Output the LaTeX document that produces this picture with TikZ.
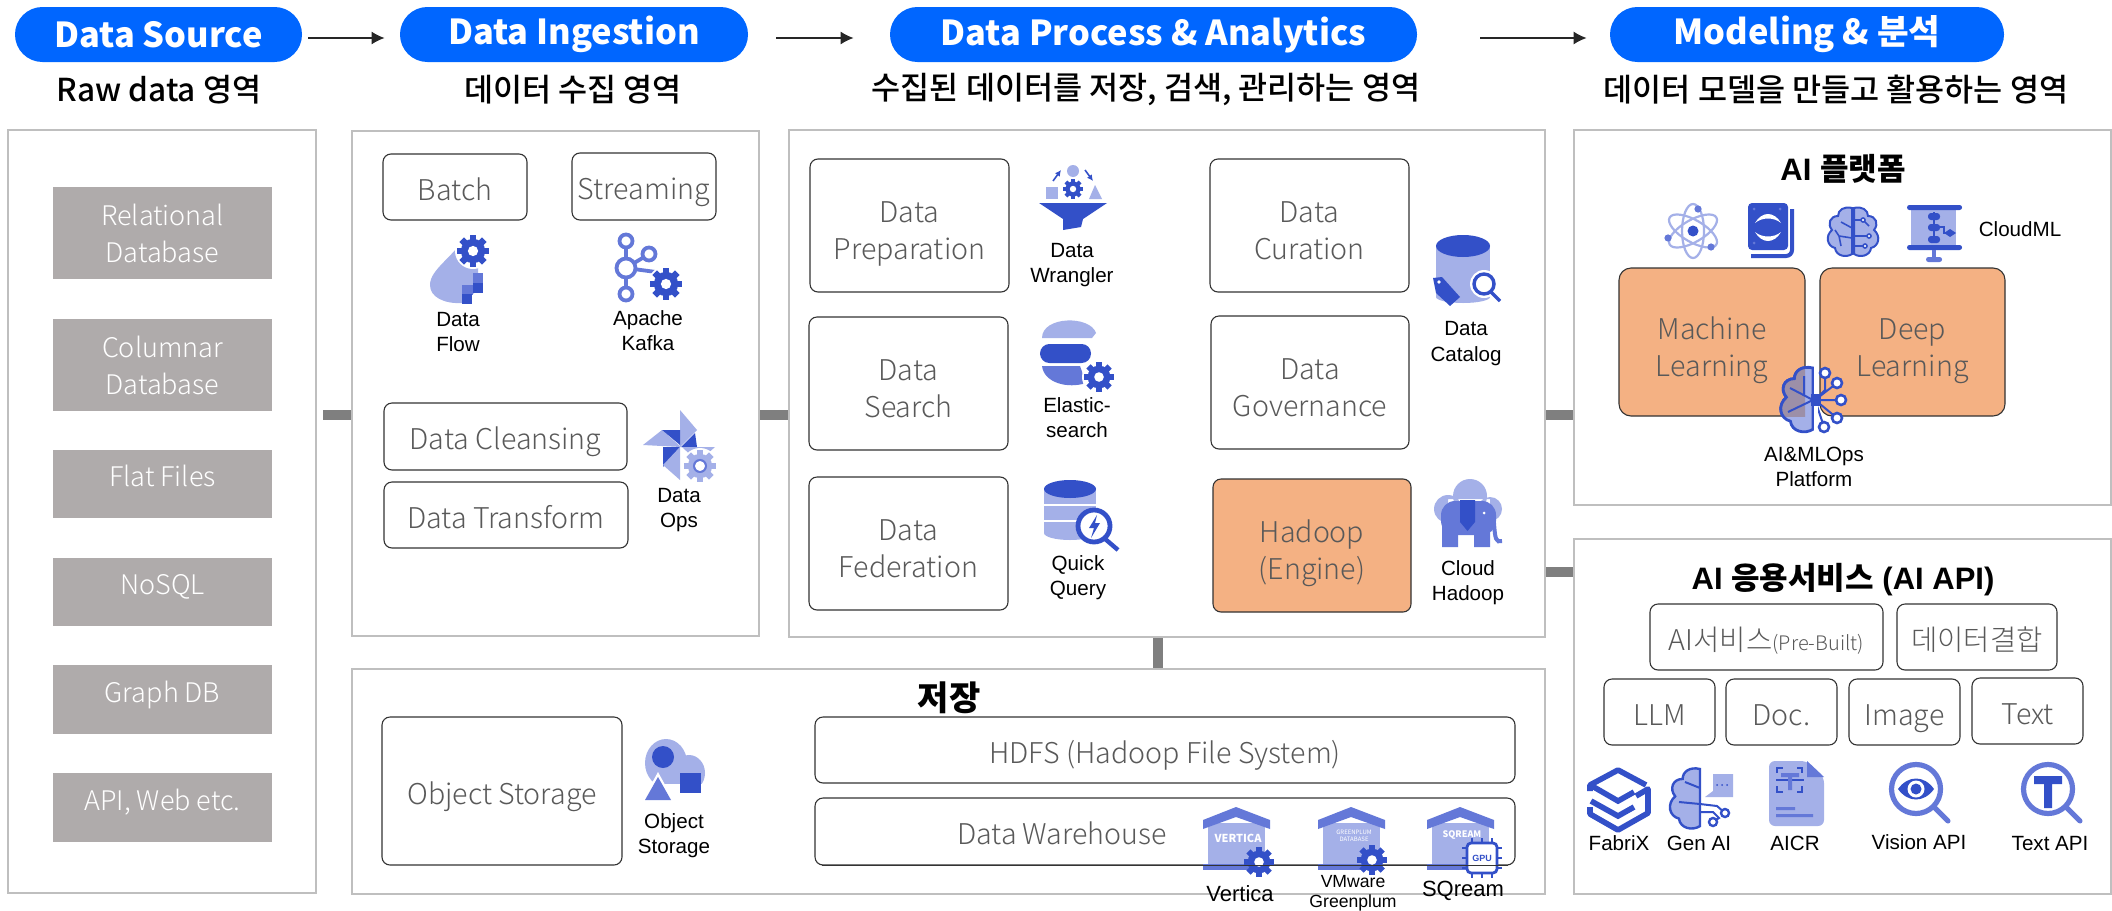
\documentclass[tikz,border=0pt]{standalone}
\usepackage{fontspec}
\setmainfont{Noto Sans CJK KR}
\newfontfamily\lightfont{Noto Sans CJK KR Light}
\newfontfamily\medfont{Noto Sans CJK KR Medium}
\newfontfamily\arialfont{Liberation Sans}
\usetikzlibrary{arrows.meta}
\definecolor{iconl}{HTML}{A4B0E8}
\definecolor{iconm}{HTML}{6478D8}
\definecolor{icond}{HTML}{3350C8}
\definecolor{hotfill}{HTML}{F4B183}
\definecolor{pillblue}{HTML}{0066FF}
\definecolor{boxgrey}{HTML}{AFABAB}
\definecolor{boxtext}{HTML}{595959}
\definecolor{panelline}{HTML}{BFBFBF}
\definecolor{stubgrey}{HTML}{7F7F7F}
\definecolor{lobeover}{HTML}{9C8FA8}
\newcommand{\gearmark}[4][icond]{%
  \foreach \a in {0,45,...,315}
    \fill[#1,shift={(#2,#3)},rotate=\a] (-.2*#4,0) rectangle (.2*#4,#4);
  \fill[#1] (#2,#3) circle (.76*#4);
  \fill[white] (#2,#3) circle (.32*#4);}
\newcommand{\lobeline}{(0,0) .. controls (-8,-2) and (-14,2) .. (-14,8) .. controls (-22,8) and (-25,16) .. (-20,22) .. controls (-27,28) and (-25,38) .. (-17,40) .. controls (-16,48) and (-6,50) .. (0,46) -- cycle}
\tikzset{
    panel/.style = {draw=panelline, line width=1.2pt, fill=white, minimum width=#1},
    pill/.style = {fill=pillblue, text=white, rounded corners=13.7pt, minimum height=27.5pt,
        minimum width=#1, font=\bfseries\fontsize{17.2}{18}\selectfont},
    subtitle/.style = {font=\medfont\fontsize{15.8}{18}\selectfont},
    greybox/.style = {fill=boxgrey, text=white, minimum width=109.5pt, align=center,
        font=\lightfont\fontsize{13.5}{18.5}\selectfont},
    liftedtext/.style = {execute at end node={\rule[-8pt]{0pt}{8pt}}},
    whitebox/.style = {draw=black!80, line width=.55pt, rounded corners=4pt, text=boxtext, fill=white,
        align=center, inner sep=0pt, font=\lightfont\fontsize{14.3}{18.5}\selectfont,
        execute at begin node={\rule{0pt}{1.2em}}, execute at end node={\rule[-.28em]{0pt}{.28em}}},
    twoline/.style = {execute at begin node={\rule{0pt}{38pt}}},
    hotbox/.style = {whitebox, fill=hotfill},
    iconlabel/.style = {align=center, inner sep=0pt, font=\arialfont\fontsize{10.3}{12.6}\selectfont},
    paneltitle/.style = {inner sep=0pt, font=\bfseries\fontsize{15.5}{18}\selectfont},
    stub/.style = {draw=stubgrey, line width=5pt},
    flowarrow/.style = {draw=black!85, line width=.7pt, -{Latex[length=6.5pt,width=6.5pt]}},
    ringmark/.style = {fill=white, draw=#1, line width=1.3pt},
    flowicon/.pic = {
        \fill[iconl] (36,0) .. controls (24,22) and (0,34) .. (0,50) .. controls (0,62) and (14,69) .. (32,68) -- (48,55) -- (48,20) -- cycle;
        \fill[white] (43,16) circle (18);
        \gearmark{43}{16}{16}
        \fill[iconm] (43,38) rectangle (53,57);
        \fill[icond] (43,48) rectangle (53,58);
        \fill[iconm] (32,50) rectangle (43,60);
        \fill[icond] (32,59) rectangle (42,69);
    },
    kafkaicon/.pic = {
        \draw[iconm, line width=1.9pt] (12,7) -- (12,60) (12,34) -- (35,20) (12,34) -- (42,38);
        \filldraw[ringmark=iconm, line width=1.9pt] (12,7) circle (6.5) (12,60) circle (6.5) (35,20) circle (6.5);
        \filldraw[ringmark=iconm, line width=1.9pt] (12,34) circle (9.5);
        \fill[white] (52,50) circle (18);
        \gearmark{52}{50}{16}
    },
    opsicon/.pic = {
        \fill[iconl] (50,10) -- (50,47) -- (67,30) -- cycle;
        \fill[icond] (65,33) -- (67,47) -- (51,47) -- cycle;
        \fill[iconl] (13,45) -- (32,30) -- (51,47) -- cycle;
        \fill[icond] (32,30) -- (50,30) -- (50,45) -- cycle;
        \fill[icond] (33,47) -- (33,67) -- (50,47) -- cycle;
        \fill[iconl] (33,65) -- (50,80) -- (50,47) -- cycle;
        \fill[iconl] (52,47) -- (85,47) -- (68,62) -- cycle;
        \fill[white] (70,66) circle (18);
        \gearmark[iconl]{70}{66}{16}
        \draw[iconm, line width=1pt] (70,66) circle (6);
    },
    wranglericon/.pic = {
        \fill[iconl] (34,6) circle (6);
        \fill[iconl] (7,22) rectangle (19,34);
        \fill[iconl] (50,34) -- (63,34) -- (56,20) -- cycle;
        \gearmark{34}{24}{10}
        \draw[icond, line width=.8pt, -{Latex[length=3pt,width=3pt]}] (14,16) -- (22,5);
        \draw[icond, line width=.8pt, -{Latex[length=3pt,width=3pt]}] (46,5) -- (54,16);
        \fill[icond] (0,38) -- (68,38) -- (44,54) -- (42,62) -- (24,65) -- (24,54) -- cycle;
    },
    elasticicon/.pic = {
        \fill[iconl] (2,17) .. controls (2,-5) and (50,-6) .. (56,12) -- (52,17) -- cycle;
        \fill[icond, rounded corners=4.7pt] (0,23) rectangle (51,42);
        \fill[iconm] (2,45) -- (40,45) -- (46,62) .. controls (28,68) and (4,62) .. (2,45) -- cycle;
        \fill[white] (59,56) circle (17);
        \gearmark{59}{56}{15}
    },
    queryicon/.pic = {
        \fill[iconl] (0,10) rectangle (52,53);
        \fill[iconl] (26,53) ellipse (26 and 7);
        \draw[white, line width=.7pt] (0,25) -- (52,25) (0,41) -- (52,41);
        \fill[icond] (26,9) ellipse (26 and 9);
        \draw[icond, line width=2.2pt] (60,58) -- (74,70);
        \filldraw[fill=white, draw=icond, line width=2.4pt] (50,46) circle (16);
        \fill[icond] (53,35) -- (45,48) -- (50,48) -- (47,58) -- (56,43) -- (51,43) -- cycle;
    },
    catalogicon/.pic = {
        \fill[iconl] (6,11) rectangle (60,62);
        \fill[iconl] (33,62) ellipse (27 and 6);
        \fill[icond] (33,11) ellipse (27 and 11);
        \fill[white] (54,49) circle (14);
        \draw[icond, line width=1.7pt] (61,57) -- (70,66);
        \draw[icond, line width=1.7pt] (54,49) circle (10);
        \fill[icond] (3,43) -- (12,42) -- (30,62) -- (20,71) -- (6,58) -- cycle;
        \fill[white] (9,47) circle (1.8);
    },
    hadoopicon/.pic = {
        \fill[iconl] (36,17) circle (17) (14,30) circle (14) (56,30) circle (12) (14,20) rectangle (56,44);
        \fill[iconm, rounded corners=7pt] (7,22) rectangle (62,56);
        \fill[iconm] (8,46) rectangle (24,68) (40,46) rectangle (56,68);
        \draw[iconm, line width=2pt] (60,44) .. controls (61,60) and (62,64) .. (68,62);
        \fill[icond] (26,21) -- (41,21) -- (41,43) -- (33.5,52) -- (26,43) -- cycle;
        \fill[white] (50,34) circle (1.5);
    },
    storeicon/.pic = {
        \begin{scope}
            \clip (0,0) rectangle (60,44);
            \fill[iconl] (21,24) ellipse (21 and 24);
            \fill[iconl] (44,34) ellipse (16 and 18);
        \end{scope}
        \fill[icond] (18,18) circle (11);
        \fill[white] (13,33) -- (30,64) -- (-4,64) -- cycle;
        \fill[iconm] (13,38) -- (26,61) -- (0,61) -- cycle;
        \fill[icond] (35,34) rectangle (56,54);
    },
    houseicon/.pic = {
        \fill[iconl] (5,16) rectangle (62,57);
        \fill[iconm] (0,13) -- (33,0) -- (67,13) -- (67,22) -- (33,10) -- (0,22) -- cycle;
        \fill[iconm] (0,57) rectangle (52,63);
    },
    cogmark/.pic = {
        \gearmark{0}{0}{15}
    },
    atomicon/.pic = {
        \foreach \a in {30,90,150}
            \draw[iconl, line width=1.1pt, rotate around={\a:(29,28)}] (29,28) ellipse (27 and 11);
        \fill[icond] (29,28) circle (5.5);
        \fill[iconm] (34,6) circle (3.6) (4,35) circle (3.6) (47,44) circle (3.6);
    },
    bookicon/.pic = {
        \fill[icond, rounded corners=2pt] (0,0) rectangle (40,47);
        \draw[icond, line width=2pt, rounded corners=3pt] (44,6) -- (44,53) -- (3,53);
        \fill[white] (7,20) .. controls (14,8) and (26,8) .. (33,20) .. controls (26,14) and (14,14) .. cycle;
        \fill[white] (7,29) .. controls (14,41) and (26,41) .. (33,29) .. controls (26,35) and (14,35) .. cycle;
        \fill[iconm] (6,6) circle (1.5) (32,6) circle (1.5) (6,40) circle (1.5);
    },
    brainicon/.pic = {
        \filldraw[fill=iconl, draw=icond, line width=1pt, shift={(-1,0)}] \lobeline;
        \filldraw[fill=iconl, draw=icond, line width=1pt, shift={(1,0)}, xscale=-1] \lobeline;
        \draw[icond, line width=.8pt] (-1,20) -- (-12,14) (-1,30) -- (-14,28) -- (-18,22) (-14,28) -- (-12,38);
        \draw[icond, line width=.8pt] (1,12) -- (10,12) -- (16,18) (1,28) -- (16,28) (1,38) -- (12,38);
        \filldraw[ringmark=icond, line width=.8pt] (10,12) circle (2) (16,28) circle (2) (12,38) circle (2);
    },
    slideicon/.pic = {
        \fill[iconl] (5,4) rectangle (50,44);
        \fill[icond, rounded corners=1.2pt] (1,1) rectangle (56,6);
        \fill[icond, rounded corners=1.2pt] (1,41) rectangle (56,46);
        \fill[iconm] (26,46) rectangle (30,54);
        \fill[iconm, rounded corners=1.2pt] (20,53) rectangle (36,58);
        \draw[icond, line width=.6pt] (28,8) -- (28,38) (28,23) -- (38,23) -- (38,29) -- (44,29);
        \fill[icond, rounded corners=1.5pt] (22,9) rectangle (34,16) (22,20) rectangle (34,27) (22,32) rectangle (34,39);
        \fill[icond] (38,29) -- (44,25) -- (50,29) -- (44,33) -- cycle;
    },
    opsbrainicon/.pic = {
        \filldraw[fill=iconl, draw=icond, line width=1.4pt, shift={(43,8)}, scale=1.33] \lobeline;
        \begin{scope}
            \clip (0,0) rectangle (35,56);
            \fill[lobeover, shift={(43,8)}, scale=1.33] \lobeline;
            \draw[icond, line width=1.4pt, shift={(43,8)}, scale=1.33] \lobeline;
        \end{scope}
        \draw[icond, line width=1pt] (43,40) -- (20,28) (43,40) -- (18,52) (34,35) -- (34,16);
        \draw[icond, line width=1pt] (45,40) -- (55,30) -- (55,13) (45,40) -- (67,23) (45,40) -- (71,40) (45,40) -- (67,58) (45,40) -- (54,67);
        \fill[white] (44,6) rectangle (48,74);
        \fill[icond] (41,34) rectangle (51,46);
        \filldraw[ringmark=icond] (55,13) circle (5) (67,23) circle (5) (71,40) circle (5) (67,58) circle (5) (54,67) circle (5);
    },
    fabrixicon/.pic = {
        \draw[icond, line width=2.8pt, line join=round] (48,29) -- (60,22) -- (60,46) -- (30,63) -- (2,47) -- (2,40);
        \draw[icond, line width=2.8pt, line join=round] (2,24) -- (2,18) -- (30,3) -- (58,18);
        \draw[icond, line width=2.8pt] (4,19) -- (30,34) -- (46,25);
        \draw[icond, line width=2.8pt] (3,34) -- (30,49) -- (46,40);
    },
    genaiicon/.pic = {
        \filldraw[fill=iconl, draw=icond, line width=1.2pt, shift={(33,1)}, scale=1.24] \lobeline;
        \draw[icond, line width=1pt] (33,20) -- (18,14) (33,36) -- (12,34) (33,44) -- (46,44) -- (52,50) -- (46,54) (33,36) -- (50,38) -- (58,45);
        \filldraw[ringmark=icond, line width=1.2pt] (58,45) circle (4) (46,54) circle (4);
        \fill[iconl] (46,6) rectangle (66,29) (46,29) -- (38,29) -- (46,23) -- cycle;
        \fill[icond] (50,17) circle (1) (55,17) circle (1) (60,17) circle (1);
    },
    aicricon/.pic = {
        \fill[iconl, rounded corners=3pt] (0,0) -- (38,0) -- (55,16) -- (55,65) -- (0,65) -- cycle;
        \fill[iconm] (38,0) -- (55,16) -- (38,16) -- cycle;
        \draw[icond, line width=1pt] (8,12) -- (8,7) -- (14,7) (28,7) -- (33,7) -- (33,12) (8,25) -- (8,31) -- (14,31) (33,25) -- (33,31) -- (28,31);
        \draw[icond, line width=1pt] (7,19) -- (35,19);
        \fill[iconm] (12,12) rectangle (30,16) (19,16) rectangle (23,29);
        \fill[iconm] (7,46) rectangle (26,49) (7,53) rectangle (44,56);
    },
    lensicon/.pic = {
        \draw[iconm, line width=2.5pt, line cap=round] (46,46) -- (60,60);
        \draw[iconm, line width=2.6pt] (28,28) circle (24.5);
    },
    eyemark/.pic = {
        \fill[icond] (10,28) .. controls (20,14) and (36,14) .. (46,28) .. controls (36,42) and (20,42) .. cycle;
        \fill[white] (28,28) circle (8.5);
        \fill[icond] (28,28) circle (5.5);
    },
    teemark/.pic = {
        \fill[icond] (14,15) rectangle (42,23) (24,15) rectangle (32,47);
    },
    chipmark/.pic = {
        \foreach \p in {-10,0,10} {
            \draw[icond, line width=.9pt] (\p,-20) -- (\p,20) (-20,\p) -- (20,\p);
        }
        \filldraw[fill=white, draw=icond, line width=1.4pt, rounded corners=2pt] (-15,-15) rectangle (15,15);
    }
}
\begin{document}
\begin{tikzpicture}[x=.5pt, y=-.5pt]
    \useasboundingbox (0,0) rectangle (2112,910);
    \coordinate (arrowrow) at (0,38);
    \coordinate (stubrow) at (0,415);
    \coordinate (lowrow) at (0,572);
    \coordinate (stubcol) at (1158,0);
    % headers
    \node [pill=143.5pt] (srcpill) at (158.5,34.5) {Data Source};
    \node [pill=174pt] (ingpill) at (574,34.5) {Data Ingestion};
    \node [pill=263.5pt] (procpill) at (1153.5,34.5) {Data Process \& Analytics};
    \node [pill=197pt] (modelpill) at (1807,34.5) {Modeling \& 분석};
    \draw [flowarrow, shorten <=3pt, shorten >=7.5pt] (srcpill.east |- arrowrow) -- (ingpill.west |- arrowrow);
    \draw [flowarrow, shorten <=14pt, shorten >=18pt] (ingpill.east |- arrowrow) -- (procpill.west |- arrowrow);
    \draw [flowarrow, shorten <=31.5pt, shorten >=11.5pt] (procpill.east |- arrowrow) -- (modelpill.west |- arrowrow);
    \node [subtitle] (srcsub) at (159,90) {Raw data 영역};
    \node [subtitle] (ingsub) at (573,90) {데이터 수집 영역};
    \node [subtitle] (procsub) at (1146,90) {수집된 데이터를 저장, 검색, 관리하는 영역};
    \node [subtitle] (modelsub) at (1836,90) {데이터 모델을 만들고 활용하는 영역};
    % panels
    \node [panel=154pt, minimum height=381.5pt] (srcpanel) at (162,511.5) {};
    \node [panel=203.5pt, minimum height=252.5pt] (ingpanel) at (555.5,383.5) {};
    \node [panel=378pt, minimum height=253.5pt] (procpanel) at (1167,383.5) {};
    \node [panel=596.5pt, minimum height=112.5pt] (storepanel) at (948.5,781.5) {};
    \node [panel=268.5pt, minimum height=187.5pt] (platpanel) at (1842.5,317.5) {};
    \node [panel=268.5pt, minimum height=177.5pt] (svcpanel) at (1842.5,716.5) {};
    \draw [stub, shorten <=3pt] (srcpanel.east |- stubrow) -- (ingpanel.west |- stubrow);
    \draw [stub] (ingpanel.east |- stubrow) -- (procpanel.west |- stubrow);
    \draw [stub] (procpanel.east |- stubrow) -- (platpanel.west |- stubrow);
    \draw [stub] (procpanel.east |- lowrow) -- (svcpanel.west |- lowrow);
    \draw [stub] (procpanel.south -| stubcol) -- (storepanel.north -| stubcol);
    % data source
    \node [greybox, minimum height=46pt] (relbox) at (162.5,233) {Relational\\Database};
    \node [greybox, minimum height=46pt] (colbox) at (162.5,365) {Columnar\\Database};
    \node [greybox, liftedtext, minimum height=34pt] (flatbox) at (162.5,484) {Flat Files};
    \node [greybox, liftedtext, minimum height=34pt] (nosqlbox) at (162.5,592) {NoSQL};
    \node [greybox, liftedtext, minimum height=34.5pt] (graphbox) at (162.5,699.5) {Graph DB};
    \node [greybox, liftedtext, minimum height=34.5pt] (apibox) at (162.5,807.5) {API, Web etc.};
    % ingestion
    \node [whitebox, minimum width=72pt, minimum height=33pt] (batchbox) at (455,187) {Batch};
    \node [whitebox, minimum width=72pt, minimum height=33.5pt] (streambox) at (644,186.5) {Streaming};
    \node [whitebox, minimum width=121.5pt, minimum height=33.5pt] (cleanbox) at (505.5,436.5) {Data Cleansing};
    \node [whitebox, minimum width=122pt, minimum height=33pt] (transbox) at (506,515) {Data Transform};
    \pic at (430,235) {flowicon};
    \pic at (614,234) {kafkaicon};
    \pic at (630,400) {opsicon};
    \node [iconlabel] (flowlabel) at (458,332) {Data\\Flow};
    \node [iconlabel] (kafkalabel) at (648,331) {Apache\\Kafka};
    \node [iconlabel] (opslabel) at (679,510) {Data\\Ops};
    % process and analytics
    \node [whitebox, twoline, minimum width=99.5pt, minimum height=66.5pt] (prepbox) at (909.5,225.5) {Data\\Preparation};
    \node [whitebox, twoline, minimum width=99.5pt, minimum height=66.5pt] (searchbox) at (908.5,383.5) {Data\\Search};
    \node [whitebox, twoline, minimum width=99.5pt, minimum height=66.5pt] (fedbox) at (908.5,543.5) {Data\\Federation};
    \node [whitebox, twoline, minimum width=99.5pt, minimum height=66.5pt] (curbox) at (1309.5,225.5) {Data\\Curation};
    \node [whitebox, twoline, minimum width=99pt, minimum height=66.5pt] (govbox) at (1310,382.5) {Data\\Governance};
    \node [hotbox, twoline, minimum width=99pt, minimum height=66.5pt] (hadoopbox) at (1312,545.5) {Hadoop\\(Engine)};
    \pic at (1039,165) {wranglericon};
    \pic at (1040,321) {elasticicon};
    \pic at (1044,480) {queryicon};
    \pic at (1430,235) {catalogicon};
    \pic at (1434,479) {hadoopicon};
    \node [iconlabel] (wranglabel) at (1072,265) {Data\\Wrangler};
    \node [iconlabel] (elasticlabel) at (1077,417.5) {Elastic-\\search};
    \node [iconlabel] (querylabel) at (1078,578) {Quick\\Query};
    \node [iconlabel] (cataloglabel) at (1466,343.5) {Data\\Catalog};
    \node [iconlabel] (cloudlabel) at (1468,582.5) {Cloud\\Hadoop};
    % storage
    \node [paneltitle, font=\bfseries\fontsize{17}{18}\selectfont] (storetitle) at (949,698) {저장};
    \node [whitebox, minimum width=120pt, minimum height=74pt] (objbox) at (502,791) {Object Storage};
    \node [whitebox, minimum width=350pt, minimum height=33pt] (hdfsbox) at (1165,750) {HDFS (Hadoop File System)};
    \node [whitebox, minimum width=350pt, minimum height=33.5pt] (dwbox) at (1165,831.5) {};
    \node [whitebox, draw=none, fill=none] (dwtext) at (1062,831.5) {Data Warehouse};
    \pic at (645,739) {storeicon};
    \node [iconlabel] (objlabel) at (674,836) {Object\\Storage};
    \pic at (1203,807) {houseicon};
    \pic at (1318,807) {houseicon};
    \pic at (1427,807) {houseicon};
    \node [inner sep=0pt, text=white, font=\bfseries\fontsize{5.5}{6}\selectfont] (vertlogo) at (1238,838) {VERTICA};
    \node [inner sep=0pt, text=white, align=center, font=\fontsize{3}{3.6}\selectfont] (gplumlogo) at (1354,836) {GREENPLUM\\DATABASE};
    \node [inner sep=0pt, text=white, font=\bfseries\itshape\fontsize{4.5}{5}\selectfont] (sqlogo) at (1462,835) {SQREAM};
    \pic at (1259,862) {cogmark};
    \pic at (1372,860) {cogmark};
    \pic at (1482,858) {chipmark};
    \node [inner sep=0pt, text=icond, font=\arialfont\bfseries\fontsize{4.5}{5}\selectfont] (gpulabel) at (1482,858) {GPU};
    \draw [black!80, line width=.55pt, shorten <=4pt, shorten >=4pt] (dwbox.south west) -- (dwbox.south east);
    \node [iconlabel, font=\arialfont\fontsize{11}{13}\selectfont] (vertlabel) at (1240,894) {Vertica};
    \node [iconlabel, font=\arialfont\fontsize{8.8}{10}\selectfont] (plumlabel) at (1353,893) {VMware\\Greenplum};
    \node [iconlabel, font=\arialfont\fontsize{11}{13}\selectfont] (sqlabel) at (1463,891) {SQream};
    % ai platform
    \node [paneltitle, font=\arialfont\bfseries\fontsize{15.5}{18}\selectfont] (plattitle) at (1843,169) {AI {\rmfamily\bfseries 플랫폼}};
    \pic at (1664,203) {atomicon};
    \pic at (1748,203) {bookicon};
    \pic at (1853,208) {brainicon};
    \pic at (1906,204) {slideicon};
    \node [iconlabel] (cloudmllabel) at (2020,229) {CloudML};
    \node [hotbox, twoline, rounded corners=6pt, minimum width=93pt, minimum height=74pt] (mlbox) at (1712,342) {Machine\\Learning};
    \node [hotbox, twoline, rounded corners=6pt, minimum width=92.5pt, minimum height=74pt] (dlbox) at (1912.5,342) {Deep\\Learning};
    \pic at (1770,360) {opsbrainicon};
    \node [iconlabel] (opsplatlabel) at (1814,466.5) {AI\&MLOps\\Platform};
    % ai services
    \node [paneltitle, font=\arialfont\bfseries\fontsize{15.5}{18}\selectfont] (svctitle) at (1843,580) {AI {\rmfamily\bfseries 응용서비스} (AI API)};
    \node [whitebox, minimum width=116.5pt, minimum height=33pt] (prebox) at (1766.5,637) {AI서비스{\fontsize{10}{10}\selectfont(Pre-Built)}};
    \node [whitebox, minimum width=80pt, minimum height=33pt] (joinbox) at (1977,637) {데이터결합};
    \node [whitebox, minimum width=55.5pt, minimum height=33pt] (llmbox) at (1659.5,712) {LLM};
    \node [whitebox, minimum width=55.5pt, minimum height=33pt] (docbox) at (1781.5,712) {Doc.};
    \node [whitebox, minimum width=55.5pt, minimum height=33pt] (imagebox) at (1904.5,712) {Image};
    \node [whitebox, minimum width=55.5pt, minimum height=33pt] (textbox) at (2027.5,711) {Text};
    \pic at (1588,767) {fabrixicon};
    \pic at (1667,768) {genaiicon};
    \pic at (1769,761) {aicricon};
    \pic at (1888,761) {lensicon};
    \pic at (1888,761) {eyemark};
    \pic at (2020,761) {lensicon};
    \pic at (2020,761) {teemark};
    \node [iconlabel] (fabrixlabel) at (1619,843) {FabriX};
    \node [iconlabel] (genailabel) at (1699,843) {Gen AI};
    \node [iconlabel] (aicrlabel) at (1795,843) {AICR};
    \node [iconlabel] (visionlabel) at (1919,842) {Vision API};
    \node [iconlabel] (textapilabel) at (2050,843) {Text API};
\end{tikzpicture}
\end{document}
